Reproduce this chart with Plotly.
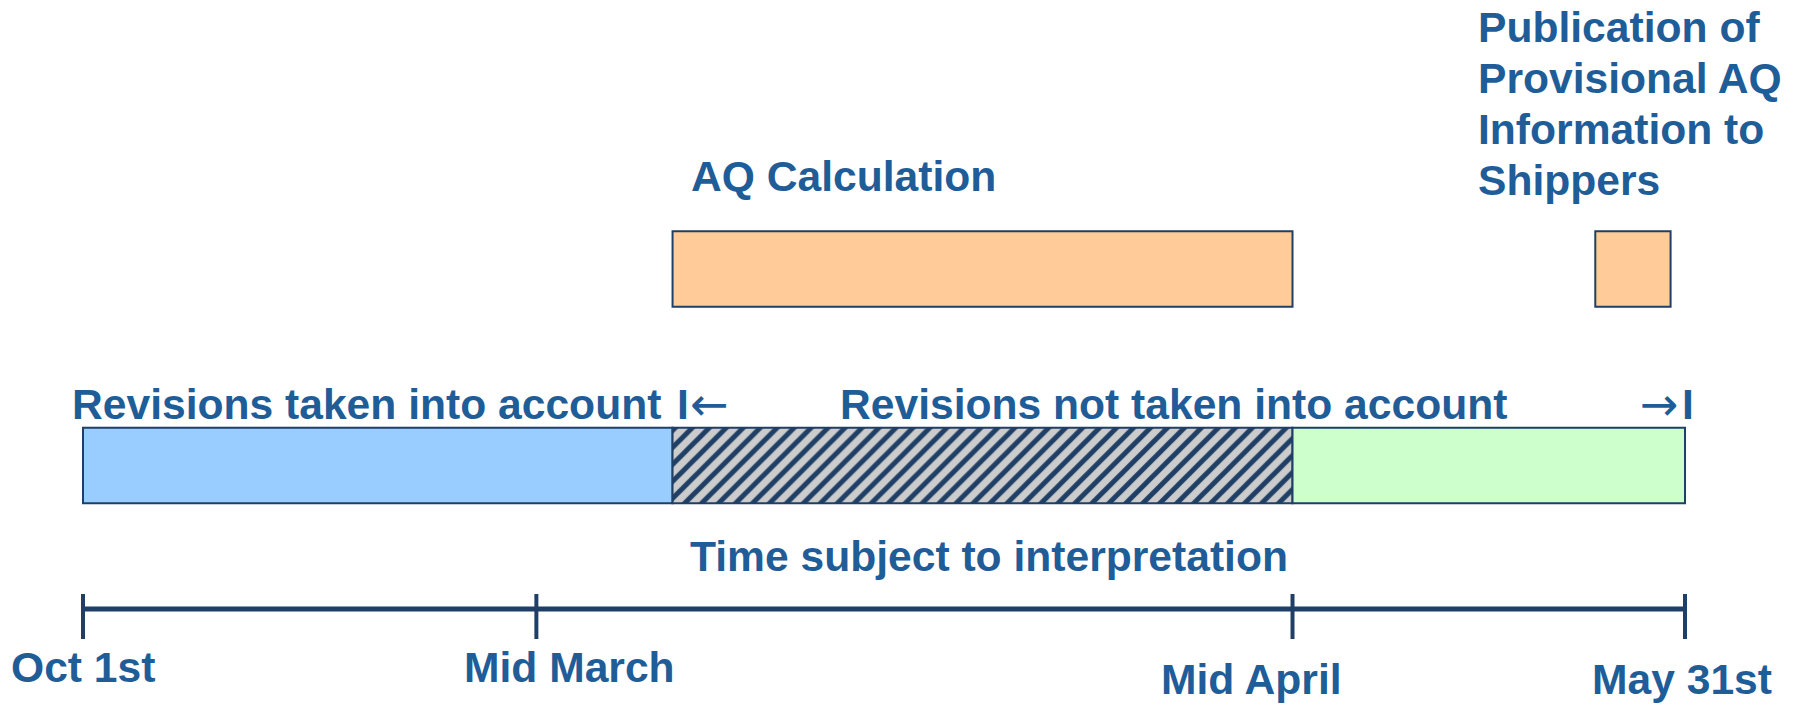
import plotly.graph_objects as go

# ---------------- data (abstract time units: Oct 1st = 0, May 31st = 100) -------------
milestone_labels = ["Oct 1st", "Mid March", "Mid April", "May 31st"]
milestone_pos = [0.0, 28.3, 75.5, 100.0]

phase_names = ["Revisions taken into account", "Revisions not taken into account", "After Mid April"]
phase_start = [0.0, 36.8, 75.5]
phase_end = [36.8, 75.5, 100.0]

task_names = ["AQ Calculation", "Publication of Provisional AQ Information to Shippers"]
task_start = [36.8, 94.4]
task_end = [75.5, 99.1]

# ---------------- layout constants ----------------
W, H = 1805, 706
TEXT = "#1F5D99"
NAVY = "#1F3F66"
FONT = "Liberation Sans, Arial, sans-serif"
FS = 42.6
PHASE_ROW, TASK_ROW, LINE_ROW = 1.0, 2.0, 0.27
BAR_W = 0.385
X0 = 83                      # pixel of time 0
XS = 16.02                   # pixels per time unit
Y1 = 465.5                   # pixel of phase row
YS = 196.5                   # pixels per row

fig = go.Figure()

# phase bars
phase_colors = ["#99CCFF", "#CCCCCC", "#CCFFCC"]
for i, name in enumerate(phase_names):
    marker = dict(color=phase_colors[i], line=dict(color=NAVY, width=2))
    if i == 1:
        marker["pattern"] = dict(shape="/", bgcolor="#CCCCCC", fgcolor=NAVY,
                                 size=12, solidity=0.42, fillmode="replace")
    fig.add_trace(go.Bar(
        orientation="h", y=[PHASE_ROW], x=[phase_end[i] - phase_start[i]],
        base=[phase_start[i]], width=BAR_W, marker=marker, name=name,
        hoverinfo="skip"))

# task bars
for i, name in enumerate(task_names):
    fig.add_trace(go.Bar(
        orientation="h", y=[TASK_ROW], x=[task_end[i] - task_start[i]],
        base=[task_start[i]], width=BAR_W,
        marker=dict(color="#FFCC99", line=dict(color=NAVY, width=2)),
        name=name, hoverinfo="skip"))

# timeline
fig.add_trace(go.Scatter(
    x=[milestone_pos[0], milestone_pos[-1]], y=[LINE_ROW, LINE_ROW],
    mode="lines", line=dict(color=NAVY, width=5), hoverinfo="skip"))
tx, ty = [], []
for m in milestone_pos:
    tx += [m, m, None]
    ty += [0.346, 0.117, None]
fig.add_trace(go.Scatter(x=tx, y=ty, mode="lines",
                         line=dict(color=NAVY, width=4), hoverinfo="skip"))

# ---------------- text ----------------
def ann(text, x, y, xanchor="left", size=FS, family=FONT, weight="bold"):
    fig.add_annotation(
        text=text, x=x / W, y=1 - y / H, xref="paper", yref="paper",
        xanchor=xanchor, yanchor="middle", showarrow=False,
        font=dict(family=family, size=size, color=TEXT, weight=weight))

ann(phase_names[0], 70, 404)
ann("I", 675, 404)
ann("←", 709, 404, xanchor="center", size=46, family="DejaVu Sans", weight="normal")
ann(phase_names[1], 838, 404)
ann("→", 1659, 404, xanchor="center", size=46, family="DejaVu Sans", weight="normal")
ann("I", 1680, 404)

ann(task_names[0], 689, 176)
pub_lines = ["Publication of", "Provisional AQ", "Information to", "Shippers"]
for line, yy in zip(pub_lines, [27, 77.5, 129, 180]):
    ann(line, 1476, yy)

ann("Time subject to interpretation", 688, 556)

label_x = [83, 569, 1251, 1682]
label_y = [667, 667, 679, 679]
for lab, lx, ly in zip(milestone_labels, label_x, label_y):
    ann(lab, lx, ly, xanchor="center")

fig.update_layout(
    width=W, height=H, autosize=False,
    margin=dict(l=0, r=0, t=0, b=0),
    paper_bgcolor="white", plot_bgcolor="white",
    showlegend=False, barmode="overlay", hovermode=False,
    xaxis=dict(range=[-X0 / XS, (W - X0) / XS], visible=False, fixedrange=True),
    yaxis=dict(range=[1 - (H - Y1) / YS, 1 + Y1 / YS], visible=False, fixedrange=True),
)

fig.write_html("out.html",
               config={"displayModeBar": False, "staticPlot": True},
               post_script="document.body.style.margin='0';document.body.style.overflow='hidden';")
